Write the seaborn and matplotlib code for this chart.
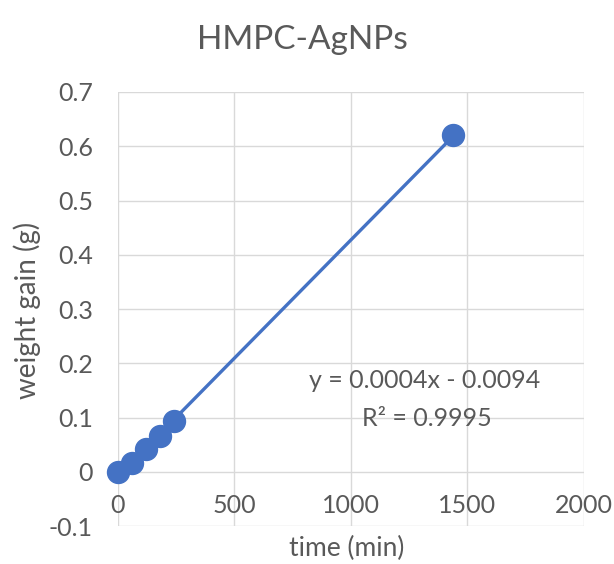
import numpy as np
import pandas as pd
import matplotlib
matplotlib.use('Agg')
import matplotlib.pyplot as plt
import seaborn as sns

# weight gain over time
time_min = [0, 60, 120, 180, 240, 1440]
weight_gain = [0.0, 0.016, 0.042, 0.067, 0.094, 0.620]
x_ticks = [0, 500, 1000, 1500, 2000]
y_ticks = [-0.1, 0, 0.1, 0.2, 0.3, 0.4, 0.5, 0.6, 0.7]
y_labels = ['-0.1', '0', '0.1', '0.2', '0.3', '0.4', '0.5', '0.6', '0.7']
eq_text = 'y = 0.0004x - 0.0094'
r2_text = 'R² = 0.9995'

df = pd.DataFrame({'time': time_min, 'gain': weight_gain})

sns.set_style('white')
plt.rcParams['font.family'] = ['Lato', 'DejaVu Sans']

blue = '#4472C4'
grey = '#595959'

fig = plt.figure(figsize=(6.14, 5.64), dpi=100)
ax = fig.add_axes([0.192, 0.067, 0.759, 0.77])

sns.regplot(x='time', y='gain', data=df, ci=None, truncate=True, ax=ax,
            scatter_kws={'s': 250, 'color': blue, 'alpha': 1, 'zorder': 3},
            line_kws={'color': blue, 'linewidth': 2.4, 'zorder': 2})

ax.set_xlim(0, 2000)
ax.set_ylim(-0.1, 0.7)
ax.set_xticks(x_ticks)
ax.set_yticks(y_ticks)
ax.set_yticklabels(y_labels)
ax.grid(True, color='#d9d9d9', linewidth=1)
ax.set_axisbelow(True)

for s in ['top', 'right', 'left']:
    ax.spines[s].set_visible(False)
# Excel puts the category axis where y = 0
ax.spines['bottom'].set_position(('data', 0))
ax.spines['bottom'].set_visible(False)
ax.tick_params(axis='both', length=0, labelsize=18, colors=grey)
ax.tick_params(axis='x', pad=16)
ax.tick_params(axis='y', pad=18)
for c in ax.collections:
    c.set_clip_on(False)

ax.set_xlabel('')
ax.set_ylabel('')
fig.text(0.565, 0.027, 'time (min)', ha='center', va='center', fontsize=19, color=grey)
fig.text(0.044, 0.45, 'weight gain (g)', ha='center', va='center', fontsize=20,
         color=grey, rotation=90)
fig.text(0.492, 0.929, 'HMPC-AgNPs', ha='center', va='center', fontsize=24, color=grey)

ax.text(0.659, 0.336, eq_text, transform=ax.transAxes, ha='center', va='center',
        fontsize=18, color=grey)
ax.text(0.664, 0.249, r2_text, transform=ax.transAxes, ha='center', va='center',
        fontsize=18, color=grey)

fig.savefig('out.png', dpi=100)
